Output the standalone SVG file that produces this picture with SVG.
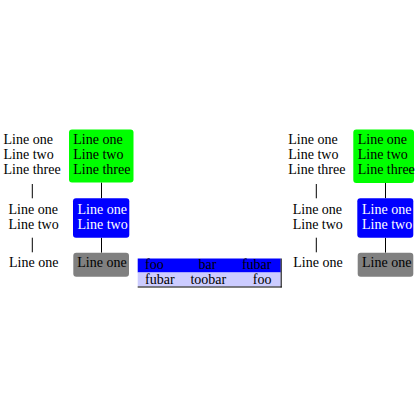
<svg xmlns="http://www.w3.org/2000/svg" width="420" height="420" viewBox="0 0 420 420">
<style>
text{font-family:"Liberation Serif","Times New Roman",serif;font-size:14px;fill:#000}
.w{fill:#fff}
.g{fill:#00ff00}
.b{fill:#0000ff}
.k{fill:#808080}
.c line{stroke:#000;stroke-width:1}
.m{text-anchor:middle}
.e{text-anchor:end}
</style>
<rect width="420" height="420" fill="#fff"/>
<g class="c" id="connectors">
<line x1="32.3" y1="184" x2="32.3" y2="198.3"/>
<line x1="32.3" y1="237.7" x2="32.3" y2="252.3"/>
<line x1="101.5" y1="182.5" x2="101.5" y2="198.3"/>
<line x1="101.5" y1="237.7" x2="101.5" y2="252.7"/>
<line x1="316.3" y1="184" x2="316.3" y2="198.3"/>
<line x1="316.3" y1="237.7" x2="316.3" y2="252.3"/>
<line x1="385.5" y1="183" x2="385.5" y2="198.3"/>
<line x1="385.5" y1="237.7" x2="385.5" y2="252.7"/>
</g>
<g id="l1a"><text x="3.5" y="144.3">Line one</text><text x="3.5" y="159">Line two</text><text x="3.5" y="173.5">Line three</text></g>
<g id="l1b"><text x="8.5" y="214.2">Line one</text><text x="8.5" y="228.7">Line two</text></g>
<g id="l1c"><text x="9" y="267">Line one</text></g>
<g id="r1a"><rect class="g" x="69" y="129.5" width="64.5" height="53" rx="3"/><text x="73.3" y="144.3">Line one</text><text x="73.3" y="159">Line two</text><text x="73.3" y="173.5">Line three</text></g>
<g id="r1b"><rect class="b" x="73" y="198.3" width="56.3" height="39.4" rx="3"/><text class="w" x="77.5" y="214.2">Line one</text><text class="w" x="77.5" y="228.7">Line two</text></g>
<g id="r1c"><rect class="k" x="73.3" y="252.7" width="55.7" height="24" rx="3"/><text x="77.3" y="267">Line one</text></g>
<g id="table">
<rect class="b" x="137.7" y="258.5" width="143" height="14"/>
<rect fill="#ccccff" x="137.7" y="272.5" width="143" height="14"/>
<line x1="281.2" y1="258.5" x2="281.2" y2="287.5" stroke="#000" stroke-width="1"/>
<line x1="137.7" y1="287" x2="281.7" y2="287" stroke="#000" stroke-width="1"/>
<text x="145" y="268.5">foo</text><text class="m" x="207.5" y="268.5">bar</text><text class="e" x="271.5" y="268.5">fubar</text>
<text x="145" y="284">fubar</text><text class="m" x="208.3" y="284">toobar</text><text class="e" x="271.5" y="284">foo</text>
</g>
<g id="l2a"><text x="288.3" y="144.3">Line one</text><text x="288.3" y="159">Line two</text><text x="288.3" y="173.5">Line three</text></g>
<g id="l2b"><text x="292.7" y="214.2">Line one</text><text x="292.7" y="228.7">Line two</text></g>
<g id="l2c"><text x="293.3" y="267">Line one</text></g>
<g id="r2a"><rect class="g" x="353.3" y="129.5" width="60.7" height="53.5" rx="3"/><text x="357.7" y="144.3">Line one</text><text x="357.7" y="159">Line two</text><text x="357.7" y="173.5">Line three</text></g>
<g id="r2b"><rect class="b" x="357.3" y="198.3" width="56" height="39.4" rx="3"/><text class="w" x="362" y="214.2">Line one</text><text class="w" x="362" y="228.7">Line two</text></g>
<g id="r2c"><rect class="k" x="357.7" y="252.7" width="55.6" height="24" rx="3"/><text x="362" y="267">Line one</text></g>
</svg>
